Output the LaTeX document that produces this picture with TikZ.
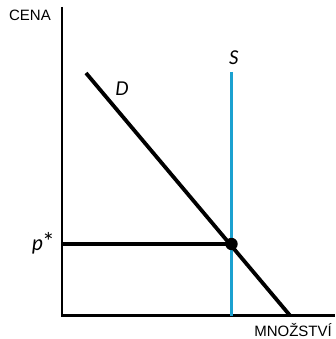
\documentclass[tikz,border=0pt]{standalone}
\usepackage{fontspec}
\setsansfont{Liberation Sans}
\newfontfamily\curvefont{Lato}
\usepackage{tikz}
\usetikzlibrary{positioning,calc}
\definecolor{supply}{HTML}{1BA1D0}

\begin{document}
\begin{tikzpicture}[x=1pt,y=-1pt,
    axislabel/.style={font=\fontsize{15}{17}\sffamily, inner sep=0pt, anchor=base},
    curvelabel/.style={font=\fontsize{19}{21}\curvefont\itshape, inner sep=0pt, anchor=base}]
  \useasboundingbox (0,0) rectangle (336,339);

  % axes
  \coordinate (o) at (62,315.5);
  \coordinate (ytop) at (62,7);
  \coordinate (xend) at (335,315.5);
  \draw[line width=2.2pt] (ytop) -- (o) -- (xend);
  \node[axislabel] (cena) at (30,21) {CENA};
  \node[axislabel] (mnozstvi) at (293,336) {MNOŽSTVÍ};

  % supply and demand
  \coordinate (stop) at (231.5,72);
  \coordinate (sbot) at (231.5,315.5);
  \coordinate (dtop) at (86,73);
  \coordinate (dbot) at (290,315.5);
  \draw[supply,line width=3.2pt] (stop) -- (sbot);
  \draw[line width=3.8pt] (dtop) -- (dbot);
  \node[curvelabel] (slab) at (234,65) {S};
  \node[curvelabel] (dlab) at (122,96) {D};

  % equilibrium
  \coordinate (eq) at (231.5,244);
  \coordinate (pax) at (62,244);
  \draw[line width=3.8pt] (pax) -- (eq);
  \fill (eq) circle (6.2);
  \node[curvelabel, font=\fontsize{21}{23}\curvefont\itshape, anchor=base west] (plab) at (32,250) {p{\fontsize{24}{26}\selectfont\textup{*}}};
\end{tikzpicture}
\end{document}
